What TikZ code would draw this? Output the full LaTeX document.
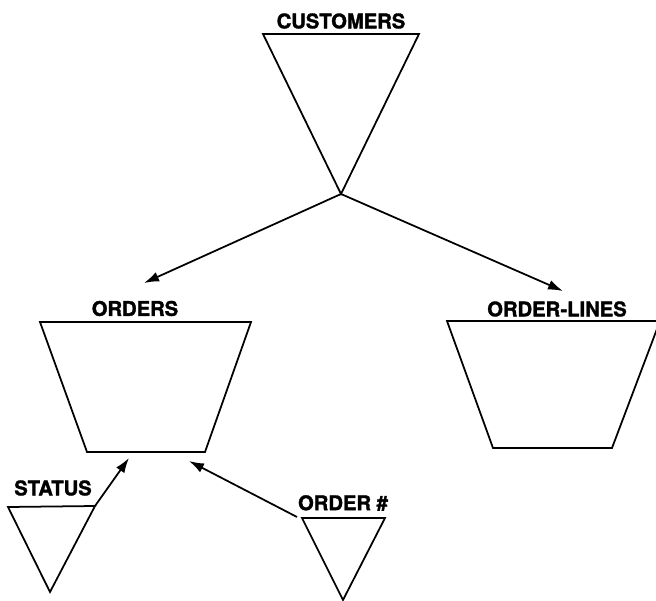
\documentclass[tikz,border=0pt]{standalone}
\usepackage{fontspec}
\setsansfont{TeX Gyre Heros}[BoldFeatures={FakeBold=1.6}]
\usetikzlibrary{arrows.meta}

\begin{document}
\begin{tikzpicture}[
  x=0.02cm, y=-0.02cm,
  font=\sffamily\bfseries\fontsize{11.5}{13}\selectfont,
  seg/.style={line width=1pt, line join=miter},
  lbl/.style={inner sep=0pt, anchor=center},
  arr/.style={-{Latex[length=3mm, width=2mm]}, line width=1pt},
]
\useasboundingbox (0,0) rectangle (656,601);

% --- Segmento raiz ---
\coordinate (custtl) at (263,34);
\coordinate (custtr) at (419,34);
\coordinate (custap) at (341,194);
\draw[seg] (custtl) -- (custtr) -- (custap) -- cycle;
\node[lbl] (custlbl) at (341,21) {CUSTOMERS};

% --- Segmentos hijos ---
\draw[seg] (40,322) -- (251,322) -- (205,452) -- (87,452) -- cycle;
\node[lbl] (ordlbl) at (135,308.5) {ORDERS};
\coordinate (ordtop) at (144,283);
\coordinate (ordbl) at (129,458);
\coordinate (ordbr) at (189,461);

\draw[seg] (447,321) -- (660,321) -- (612,448) -- (493,448) -- cycle;
\node[lbl] (linlbl) at (557,309) {ORDER-LINES};
\coordinate (lintop) at (563,291);

% --- Indices ---
\coordinate (statr) at (95,506);
\draw[seg] (8,507) -- (statr) -- (50,592) -- cycle;
\node[lbl] (statlbl) at (53,488) {STATUS};

\coordinate (numl) at (297,517);
\draw[seg] (302,518) -- (385,518) -- (343,600) -- cycle;
\node[lbl] (numlbl) at (343,503) {ORDER \#};

% --- Conectores ---
\draw[arr] (custap) -- (ordtop);
\draw[arr] (custap) -- (lintop);
\draw[arr] (statr) -- (ordbl);
\draw[arr] (numl) -- (ordbr);

\end{tikzpicture}
\end{document}
